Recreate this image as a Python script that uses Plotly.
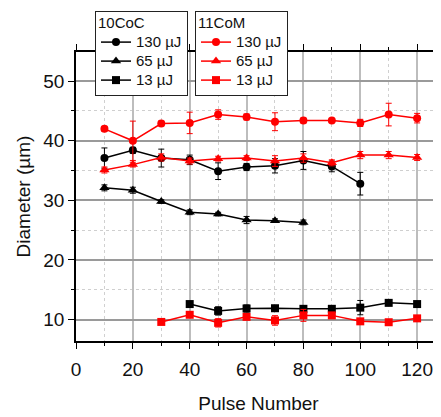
import plotly.graph_objects as go

pulses = [10, 20, 30, 40, 50, 60, 70, 80, 90, 100, 110, 120]

# 10CoC series
coc_130_x = [10, 20, 30, 40, 50, 60, 70, 80, 90, 100]
coc_130_y = [37.1, 38.4, 37.1, 36.8, 34.9, 35.6, 35.8, 36.7, 35.7, 32.8]
coc_130_e = [1.7, 0.5, 1.5, 0.8, 1.4, 0.6, 1.2, 1.5, 0.9, 1.9]

coc_65_x = [10, 20, 30, 40, 50, 60, 70, 80]
coc_65_y = [32.1, 31.7, 29.8, 28.0, 27.7, 26.7, 26.6, 26.3]
coc_65_e = [0.5, 0.5, 0.3, 0.4, 0.3, 0.6, 0.3, 0.4]

coc_13_x = [40, 50, 60, 70, 80, 90, 100, 110, 120]
coc_13_y = [12.6, 11.45, 11.85, 11.9, 11.8, 11.8, 12.0, 12.8, 12.6]
coc_13_e = [0.3, 0.7, 0.6, 0.4, 0.3, 0.3, 1.2, 0.3, 0.3]

# 11CoM series
com_130_x = pulses
com_130_y = [42.0, 40.0, 42.9, 43.0, 44.4, 44.0, 43.2, 43.4, 43.4, 43.0, 44.4, 43.8]
com_130_e = [0.4, 3.3, 0.4, 1.8, 0.8, 0.5, 1.5, 0.4, 0.3, 0.6, 1.9, 0.8]

com_65_x = pulses
com_65_y = [35.1, 36.0, 37.2, 36.6, 37.0, 37.1, 36.6, 37.1, 36.3, 37.6, 37.6, 37.2]
com_65_e = [0.5, 0.4, 0.6, 0.5, 0.4, 0.4, 0.9, 0.7, 0.5, 0.6, 0.6, 0.5]

com_13_x = [30, 40, 50, 60, 70, 80, 90, 100, 110, 120]
com_13_y = [9.6, 10.8, 9.45, 10.45, 9.85, 10.7, 10.7, 9.7, 9.55, 10.2]
com_13_e = [0.3, 0.4, 0.7, 0.4, 0.8, 1.0, 0.3, 0.4, 0.3, 0.4]

labels = ["130 µJ", "65 µJ", "13 µJ"]
legend_titles = ["10CoC", "11CoM"]
symbols = ["circle", "triangle-up", "square"]
sizes = [8, 9, 8]

def big(t, s=15):
    return f"<span style='font-size:{s}px'>{t}</span>"

fig = go.Figure()

groups = [
    ("black", "legend", [(coc_130_x, coc_130_y, coc_130_e), (coc_65_x, coc_65_y, coc_65_e), (coc_13_x, coc_13_y, coc_13_e)]),
    ("#ff0000", "legend2", [(com_130_x, com_130_y, com_130_e), (com_65_x, com_65_y, com_65_e), (com_13_x, com_13_y, com_13_e)]),
]

for color, leg, series in groups:
    for i, (xs, ys, es) in enumerate(series):
        fig.add_trace(go.Scatter(
            x=xs, y=ys, mode="lines+markers", name=big(labels[i]), legend=leg,
            line=dict(color=color, width=1.5),
            marker=dict(symbol=symbols[i], size=sizes[i], color=color),
            error_y=dict(type="data", array=es, visible=True, color=color, thickness=1, width=3),
        ))

font = "Liberation Sans, Arial, sans-serif"

# page body has an 8px offset, so the figure is sized/margined to compensate
OFF = 8
W, H = 441 - OFF, 417 - OFF
L, T, B = 76 - OFF, 52 - OFF, 417 - 341
pw, ph = W - L, H - T - B

leg_common = dict(
    xref="paper", yref="paper", xanchor="left", yanchor="top",
    bgcolor="white", bordercolor="#222", borderwidth=1,
    font=dict(family=font, size=12, color="#111"),
    tracegroupgap=0, itemwidth=30,
)

fig.update_layout(
    width=W, height=H,
    margin=dict(l=L, r=0, t=T, b=B, autoexpand=False),
    plot_bgcolor="white", paper_bgcolor="white",
    font=dict(family=font, color="#111"),
    legend=dict(x=(95 - OFF - L) / pw, y=(H - B - (11 - OFF)) / ph,
                title=dict(text=big(legend_titles[0]), font=dict(size=12)), **leg_common),
    legend2=dict(x=(195 - OFF - L) / pw, y=(H - B - (11 - OFF)) / ph,
                 title=dict(text=big(legend_titles[1]), font=dict(size=12)), **leg_common),
)

fig.update_xaxes(
    range=[0, 128.4], tickvals=[0, 20, 40, 60, 80, 100, 120],
    showline=True, linecolor="black", linewidth=1.5, mirror="ticks",
    ticks="outside", ticklen=6, tickcolor="black", ticklabelstandoff=4,
    showgrid=True, gridcolor="#bdbdbd", gridwidth=2,
    minor=dict(tickvals=[10, 30, 50, 70, 90, 110], ticks="outside", ticklen=3, tickcolor="black",
               showgrid=True, gridcolor="#d0d0d0", griddash="dot", gridwidth=1),
    tickfont=dict(size=19, family=font, color="#111"),
    title=dict(text="Pulse Number", font=dict(size=19, family=font, color="#111"), standoff=18),
    zeroline=False,
)
fig.update_yaxes(
    range=[6.4, 54.9], tickvals=[10, 20, 30, 40, 50],
    showline=True, linecolor="black", linewidth=1.5, mirror="ticks",
    ticks="outside", ticklen=6, tickcolor="black",
    showgrid=True, gridcolor="#9a9a9a", gridwidth=1.5,
    minor=dict(tickvals=[15, 25, 35, 45], ticks="outside", ticklen=3, tickcolor="black",
               showgrid=True, gridcolor="#cfcfcf", griddash="dot", gridwidth=1),
    tickfont=dict(size=19, family=font, color="#111"),
    title=dict(text="Diameter (µm)", font=dict(size=19, family=font, color="#111"), standoff=8),
    zeroline=False,
)

fig.write_html("out.html")
